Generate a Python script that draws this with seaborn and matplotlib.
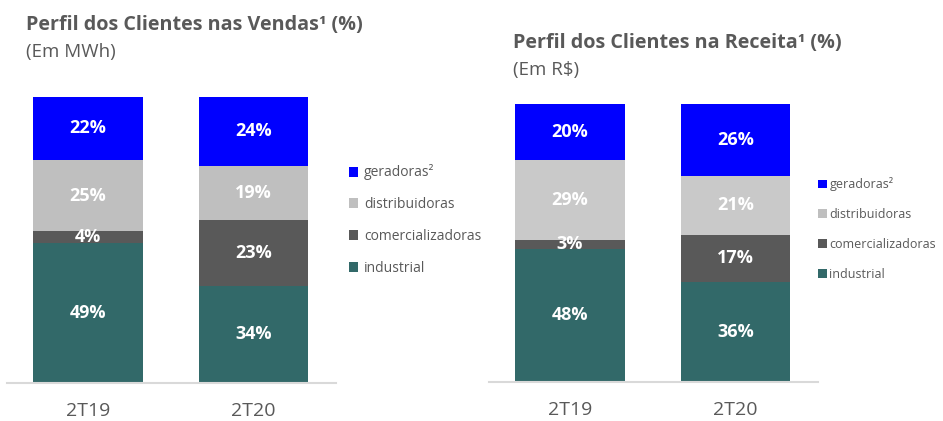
import numpy as np
import seaborn as sns
import matplotlib.pyplot as plt
from matplotlib.patches import Patch

periodos = ["2T19", "2T20"]
segmentos = ["industrial", "comercializadoras", "distribuidoras", "geradoras²"]

# Perfil nas vendas (MWh), em %
vendas_industrial = [49, 34]
vendas_comercializadoras = [4, 23]
vendas_distribuidoras = [25, 19]
vendas_geradoras = [22, 24]

# Perfil na receita (R$), em %
receita_industrial = [48, 36]
receita_comercializadoras = [3, 17]
receita_distribuidoras = [29, 21]
receita_geradoras = [20, 26]

cores = ["#326969", "#595959", "#BFBFBF", "#0000FF"]
cinza_texto = "#595959"

sns.set_theme(style="white")
plt.rcParams["font.family"] = ["Open Sans", "DejaVu Sans"]

fig = plt.figure(figsize=(9.43, 4.21), dpi=100)


def painel(ax, series, cores_seg):
    valores = np.array(series)
    acumulado = np.cumsum(valores, axis=0)
    # desenha do topo para a base, cada barra cobre a anterior
    for i in reversed(range(len(valores))):
        sns.barplot(x=periodos, y=acumulado[i], color=cores_seg[i], width=0.66,
                    saturation=1, errorbar=None, ax=ax, zorder=2, linewidth=0)
    for i in range(len(valores)):
        for j, v in enumerate(valores[i]):
            ax.text(j, acumulado[i][j] - v / 2, f"{v}%", ha="center", va="center",
                    color="white", fontsize=13, fontweight="bold", zorder=5)
    ax.set_ylim(0, 100)
    ax.set_xlim(-0.49, 1.5)
    ax.set_yticks([])
    ax.set_ylabel("")
    for s in ["top", "right", "left"]:
        ax.spines[s].set_visible(False)
    ax.spines["bottom"].set_color("#D9D9D9")
    ax.spines["bottom"].set_linewidth(1.5)
    ax.tick_params(axis="x", length=0, pad=14, labelsize=14, labelcolor=cinza_texto)


ax1 = fig.add_axes([7 / 943, 1 - 383 / 421, 329 / 943, 286 / 421])
painel(ax1, [vendas_industrial, vendas_comercializadoras, vendas_distribuidoras, vendas_geradoras], cores)

ax2 = fig.add_axes([489 / 943, 1 - 382 / 421, 329 / 943, 278 / 421])
painel(ax2, [receita_industrial, receita_comercializadoras, receita_distribuidoras, receita_geradoras],
       ["#326969", "#595959", "#C9C9C9", "#0000FF"])

fig.text(26 / 943, 1 - 25 / 421, "Perfil dos Clientes nas Vendas¹ (%)", fontsize=14.2,
         fontweight="bold", color=cinza_texto, va="center")
fig.text(26 / 943, 1 - 52 / 421, "(Em MWh)", fontsize=13.5, color=cinza_texto, va="center")
fig.text(513 / 943, 1 - 43 / 421, "Perfil dos Clientes na Receita¹ (%)", fontsize=14.2,
         fontweight="bold", color=cinza_texto, va="center")
fig.text(513 / 943, 1 - 70 / 421, "(Em R$)", fontsize=13.5, color=cinza_texto, va="center")

handles = [Patch(color=c, linewidth=0) for c in reversed(cores)]
rotulos = list(reversed(segmentos))
fig.legend(handles, rotulos, loc="upper left", bbox_to_anchor=(336 / 943, 1 - 152 / 421),
           frameon=False, fontsize=10, handlelength=0.7, handleheight=0.7,
           handletextpad=0.4, labelspacing=1.2, labelcolor=cinza_texto)
fig.legend(handles, rotulos, loc="upper left", bbox_to_anchor=(807 / 943, 1 - 166 / 421),
           frameon=False, fontsize=9, handlelength=0.7, handleheight=0.7,
           handletextpad=0.2, labelspacing=1.35, labelcolor=cinza_texto)

fig.savefig("out.png", dpi=100)
